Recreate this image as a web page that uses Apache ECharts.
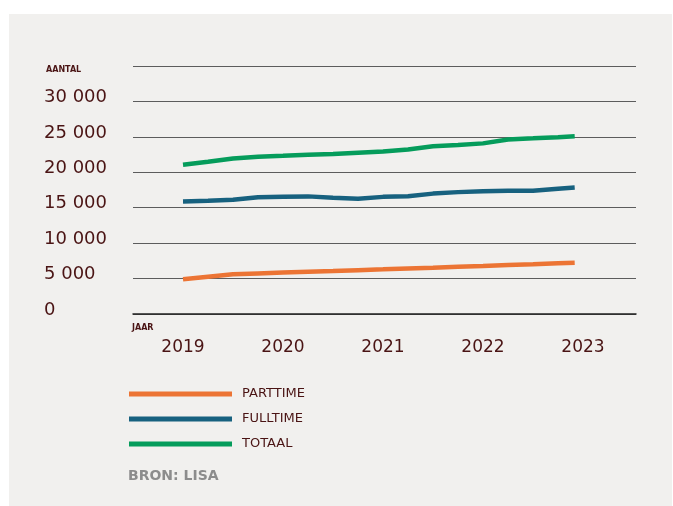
<!DOCTYPE html>
<html>
<head>
<meta charset="utf-8">
<script src="https://cdn.jsdelivr.net/npm/echarts@6/dist/echarts.min.js"></script>
<style>
  html, body { margin: 0; padding: 0; background: #ffffff; }
  #panel { position: absolute; left: 9px; top: 14px; width: 663px; height: 492px; background: #F1F0EE; }
  #chart { position: absolute; left: 0; top: 0; width: 673px; height: 506px; }
</style>
</head>
<body>
<div id="panel"></div>
<div id="chart"></div>
<script>
// Periods (decimal years, quarterly, Jan 2019 – Dec 2022)
const periods = [2019.0, 2019.25, 2019.5, 2019.75, 2020.0, 2020.25, 2020.5, 2020.75,
                 2021.0, 2021.25, 2021.5, 2021.75, 2022.0, 2022.25, 2022.5, 2022.75, 2022.917];
const parttime = [4890, 5250, 5600, 5720, 5840, 5950, 6060, 6190,
                  6300, 6430, 6540, 6670, 6780, 6910, 7020, 7150, 7230];
const fulltime = [15890, 16000, 16140, 16490, 16560, 16600, 16420, 16280,
                  16530, 16630, 16990, 17200, 17340, 17380, 17410, 17690, 17860];
const totaal = [21050, 21500, 21960, 22190, 22320, 22470, 22570, 22770,
                22950, 23230, 23660, 23850, 24080, 24630, 24790, 24960, 25100];
const xTicks = [2019, 2020, 2021, 2022, 2023];
const yTicks = [0, 5000, 10000, 15000, 20000, 25000, 30000];
const yTickLabels = ['0', '5 000', '10 000', '15 000', '20 000', '25 000', '30 000'];
const seriesNames = ['PARTTIME', 'FULLTIME', 'TOTAAL'];

const FONT = 'DejaVu Sans';
const MAROON = '#4a1414';
const colors = ['#EC7434', '#17617F', '#059C5B'];

const chart = echarts.init(document.getElementById('chart'), null, { renderer: 'canvas' });
const pairs = arr => periods.map((p, i) => [p, arr[i]]);

chart.setOption({
  backgroundColor: 'transparent',
  animation: false,
  color: colors,
  textStyle: { fontFamily: FONT },
  title: [
    { text: 'AANTAL', left: 46, top: 66, padding: 0,
      textStyle: { fontFamily: FONT, fontSize: 8, fontWeight: 'bold', color: MAROON } },
    { text: 'JAAR', left: 132, top: 324, padding: 0,
      textStyle: { fontFamily: FONT, fontSize: 8, fontWeight: 'bold', color: MAROON } },
    { text: 'BRON: LISA', left: 128, top: 469, padding: 0,
      textStyle: { fontFamily: FONT, fontSize: 14, fontWeight: 'bold', color: '#8c8c8c' } }
  ],
  legend: {
    orient: 'vertical',
    left: 129,
    top: 387,
    padding: 0,
    itemWidth: 103,
    itemHeight: 5,
    itemGap: 11,
    icon: 'rect',
    data: seriesNames,
    textStyle: { fontFamily: FONT, fontSize: 13, color: MAROON, lineHeight: 14, padding: [0, 0, 0, 5] }
  },
  grid: { left: 133, right: 37, top: 66, bottom: 192 },
  xAxis: {
    type: 'value',
    min: 2018.5,
    max: 2023.53,
    axisLine: { show: true, lineStyle: { color: '#222222', width: 1.5 } },
    axisTick: { show: false },
    splitLine: { show: false },
    axisLabel: {
      customValues: xTicks,
      formatter: v => String(Math.round(v)),
      fontFamily: FONT, fontSize: 17, color: MAROON, margin: 25
    }
  },
  yAxis: {
    type: 'value',
    min: 0,
    max: 35000,
    interval: 5000,
    axisLine: { show: false },
    axisTick: { show: false },
    splitLine: { show: true, lineStyle: { color: '#5c5c5c', width: 1 } },
    axisLabel: {
      customValues: yTicks,
      formatter: v => yTickLabels[yTicks.indexOf(v)] ?? '',
      align: 'left',
      margin: 89,
      verticalAlign: 'bottom',
      lineHeight: 8,
      fontFamily: FONT, fontSize: 18, color: MAROON
    }
  },
  series: [
    { name: seriesNames[0], type: 'line', data: pairs(parttime), symbol: 'none', lineStyle: { width: 4.5 }, z: 3 },
    { name: seriesNames[1], type: 'line', data: pairs(fulltime), symbol: 'none', lineStyle: { width: 4.5 }, z: 3 },
    { name: seriesNames[2], type: 'line', data: pairs(totaal), symbol: 'none', lineStyle: { width: 4.5 }, z: 3 }
  ]
});
</script>
</body>
</html>
